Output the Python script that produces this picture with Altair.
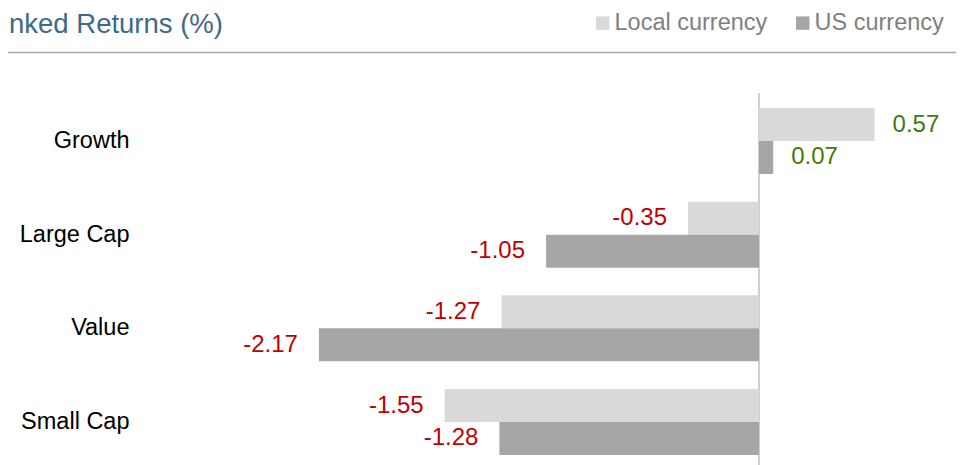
import altair as alt
import pandas as pd

categories = ["Growth", "Large Cap", "Value", "Small Cap"]
series_names = ["Local currency", "US currency"]
local_values = [0.57, -0.35, -1.27, -1.55]
us_values = [0.07, -1.05, -2.17, -1.28]
title_text = "nked Returns (%)"
series_colors = ["#d9d9d9", "#a6a6a6"]

rows = []
for c, l, u in zip(categories, local_values, us_values):
    rows.append({"cat": c, "series": series_names[0], "value": l, "label": f"{l:.2f}"})
    rows.append({"cat": c, "series": series_names[1], "value": u, "label": f"{u:.2f}"})
df = pd.DataFrame(rows)

FONT = "Liberation Sans"
W, H = 816, 371

x_scale = alt.Scale(domain=[-3.0523, 0.9714], nice=False, zero=False)
y_scale = alt.Scale(domain=categories, range=[0, 375], paddingInner=0.296, paddingOuter=0.15)
yoff_scale = alt.Scale(domain=series_names, paddingInner=0, paddingOuter=0)

y_axis = alt.Axis(domain=False, ticks=False, grid=False, labelPadding=11,
                  labelFontSize=23.5, labelColor="#000000", labelFont=FONT, labelLimit=300)

y_enc = alt.Y("cat:N", scale=y_scale, axis=y_axis, title=None)
yoff_enc = alt.YOffset("series:N", scale=yoff_scale)
x_enc = alt.X("value:Q", scale=x_scale, axis=None)

base = alt.Chart(df)

bars = base.mark_bar().encode(
    y=y_enc,
    yOffset=yoff_enc,
    x=x_enc,
    x2=alt.datum(0),
    color=alt.Color(
        "series:N",
        scale=alt.Scale(domain=series_names, range=series_colors),
        legend=alt.Legend(
            orient="none", legendX=451, legendY=-83, direction="horizontal",
            title=None, symbolType="square", symbolSize=180, symbolStrokeWidth=0,
            labelFontSize=23.5, labelColor="#7f7f7f", labelFont=FONT,
            labelLimit=300, columnPadding=23, labelOffset=0, padding=0,
        ),
    ),
)

pos_labels = base.transform_filter("datum.value >= 0").mark_text(
    align="left", baseline="middle", dx=18, fontSize=24, color="#3f7b0a", font=FONT
).encode(y=y_enc, yOffset=yoff_enc, x=x_enc, text="label:N")

neg_labels = base.transform_filter("datum.value < 0").mark_text(
    align="right", baseline="middle", dx=-21, fontSize=24, color="#c00000", font=FONT
).encode(y=y_enc, yOffset=yoff_enc, x=x_enc, text="label:N")

zero_rule = alt.Chart(pd.DataFrame({"z": [0]})).mark_rule(
    color="#bfbfbf", strokeWidth=1.5
).encode(x=alt.X("z:Q", scale=x_scale, axis=None), y=alt.value(-1), y2=alt.value(380))

sep_rule = alt.Chart(pd.DataFrame({"a": [0]})).mark_rule(
    color="#a6a6a6", strokeWidth=1.5
).encode(x=alt.value(-140), x2=alt.value(823), y=alt.value(-41.5))

title_mark = alt.Chart(pd.DataFrame({"t": [title_text]})).mark_text(
    align="left", baseline="alphabetic", fontSize=27.5, color="#3d6a8a", font=FONT
).encode(x=alt.value(-131), y=alt.value(-61), text="t:N")

chart = alt.layer(sep_rule, title_mark, zero_rule, bars, pos_labels, neg_labels).properties(
    width=W, height=H,
    padding={"left": 132, "top": 86, "right": 0, "bottom": 0},
    autosize=alt.AutoSizeParams(type="none"),
    background="#ffffff",
).configure(font=FONT).configure_view(stroke=None)

chart.save("out.html", embed_options={"renderer": "svg", "actions": False})
